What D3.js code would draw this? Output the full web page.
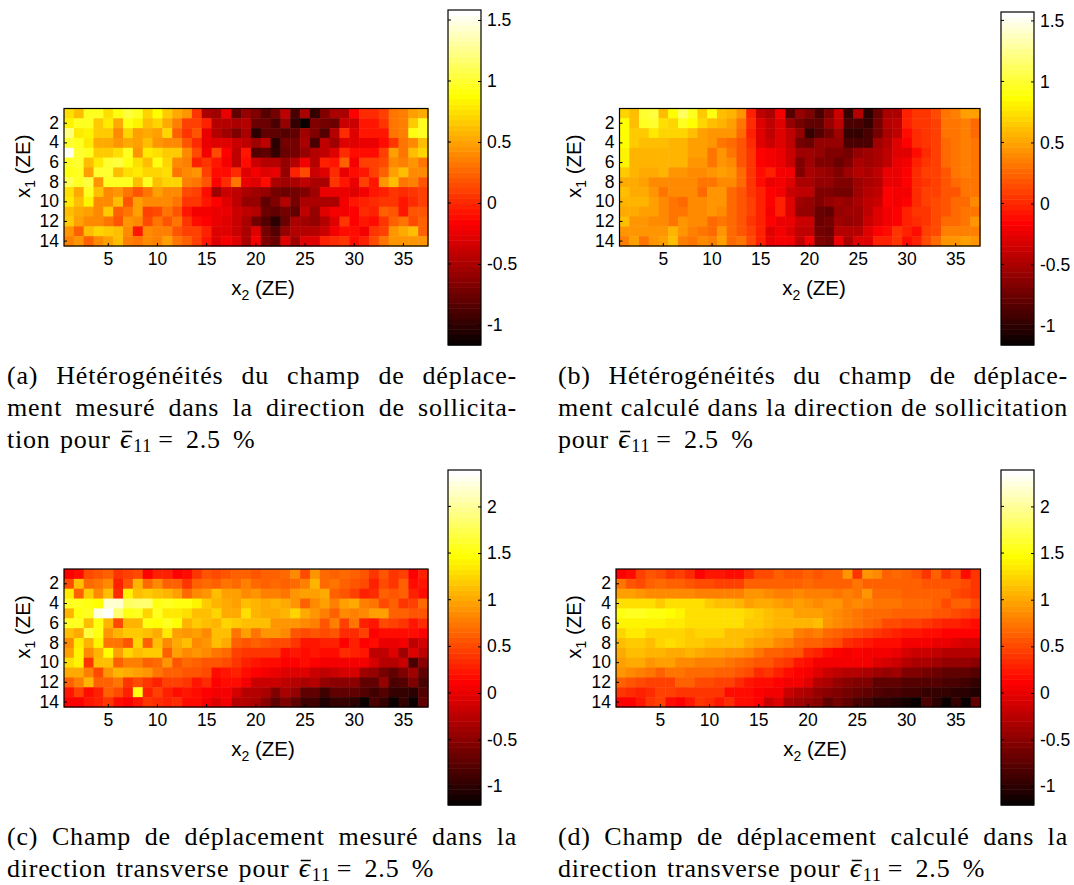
<!DOCTYPE html>
<html><head><meta charset="utf-8">
<script src="https://cdn.jsdelivr.net/npm/d3@7"></script>
<style>
html,body{margin:0;padding:0;background:#fff}
svg{display:block}
.ax text{font-family:"Liberation Sans",Arial,sans-serif;font-size:17.5px;fill:#000}
.lab{font-family:"Liberation Sans",Arial,sans-serif;font-size:20.5px;fill:#000}
.cap{font-family:"Liberation Serif",serif;font-size:26px;fill:#000}
</style></head><body>
<svg id="c" width="1074" height="885"></svg>
<script>
const xTicksVals=[5,10,15,20,25,30,35];
const yTicksVals=[2,4,6,8,10,12,14];
const barTicksTop=[-1,-0.5,0,0.5,1,1.5];
const barTicksBottom=[-1,-0.5,0,0.5,1,1.5,2];
const fieldA=[
[.75,.6,.95,.95,.75,.9,1.05,.95,.7,.88,.65,.55,.45,.05,-.5,-.55,-.25,-.8,-.6,-.65,-.85,-.7,-.4,-.9,-.5,-.95,-.65,-.5,-.5,-.15,0,0,.1,.3,.35,.5,.55],
[.85,.95,.95,.65,.8,.55,.9,.85,.6,.7,.55,.35,.1,.1,-.02,-.45,-.45,-.5,-.45,-.75,-.75,-.9,-.6,-.95,-1.15,-.65,-.7,-.75,-.35,-.35,-.05,-.05,.05,.3,.35,.65,.95],
[1.2,.8,.85,.65,.65,.4,.7,.5,.55,.5,.7,.25,.05,.2,-.25,-.45,-.55,-.65,-.5,-1,-.8,-.8,-.85,-.8,-.55,-.65,-.85,-.45,0,-.3,-.05,-.05,-.05,.3,.35,.9,.95],
[1,.95,.8,.55,.55,.45,.55,.5,.6,.45,.4,.4,.2,0,-.25,-.3,-.3,-.35,-.4,-.55,-.4,-1,-.7,-.7,-.5,-.9,-.4,-.55,-.3,-.3,-.25,-.25,-.1,.05,.3,.4,.6],
[1.5,1,.95,.65,.65,.75,.95,.45,.8,.75,.65,.65,.4,.15,-.2,.15,-.15,-.4,-.05,-.85,-.8,-.95,-.75,-.7,-.6,-.45,-.4,-.3,0,-.1,-.1,-.1,.1,.5,.3,.6,.7],
[.95,1,.6,.8,1,1.05,.9,.75,.6,.9,.7,.4,.35,-.02,.05,-.05,-.2,-.4,-.1,-.35,-.45,-.45,-.6,-.45,-.2,-.45,-.02,-.05,.25,-.2,.1,.1,.15,.4,.35,.45,.3],
[.9,.95,.5,1,1,.6,.75,.8,.7,.7,.75,.3,.4,.45,.1,-.1,-.1,.02,-.3,-.2,-.3,-.25,-.6,-.02,.15,-.35,-.3,0,-.25,-.1,-.05,.1,.25,.5,.6,.4,.4],
[1.1,.95,1.05,.45,.95,.95,.95,.6,.95,.6,.7,.7,.35,.3,.2,-.15,.02,.3,-.25,-.3,-.1,-.5,-.55,-.5,-.4,-.5,-.5,.05,-.05,-.25,.1,-.05,.45,.6,.3,.35,.2],
[.75,.55,.95,.6,.4,.45,.3,.2,.3,.5,.4,.4,.15,.1,-.1,-.55,-.35,-.4,-.5,-.55,-.6,-.7,-.75,-.7,-.65,-.55,-.25,-.25,-.25,-.3,-.2,-.05,-.02,.05,0,.05,.1],
[.8,.6,.85,.4,.4,.6,.2,.5,.4,.4,.4,.3,.05,.05,-.05,-.15,-.3,-.4,-.6,-.6,-.8,-.65,-.45,-.7,-.5,-.5,-.5,-.5,-.2,-.05,-.02,0,.05,.05,-.05,.02,.1],
[.6,.55,.5,.4,.65,.25,.3,.5,.1,.15,.3,.2,-.05,-.2,-.2,-.25,-.25,-.35,-.4,-.45,-.75,-.8,-.7,-.8,-.4,-.6,-.3,-.2,-.2,-.15,0,-.02,.25,.2,-.05,.2,.2],
[.65,.5,.4,.4,.3,.2,.45,.4,.15,.3,.2,.3,.05,-.1,-.15,-.25,-.3,-.35,-.5,-.7,-.85,-1,-.75,-.5,-.55,-.6,-.45,-.3,.05,-.15,-.05,-.1,.05,.25,.3,.15,.25],
[.45,.25,.6,.7,.65,.6,.4,-.05,.4,.35,.35,.2,.1,.1,-.02,-.3,-.3,-.35,-.5,-.3,-.7,-.85,-.6,-.45,-.45,-.45,-.35,-.2,-.1,-.1,-.2,.05,.1,.45,.55,.6,.25],
[.35,.45,.25,.4,.5,.6,.35,.3,.4,.35,.5,.3,.25,.1,-.05,-.3,-.2,-.3,-.5,-.2,-.65,-.75,-.3,-.55,-.3,-.3,-.02,0,.05,-.1,-.02,.15,.3,.45,.45,.45,.45]
];
const fieldB=[
[.7,.6,1,1.05,.6,.85,1.1,.95,.65,.9,.6,.55,.45,-.05,-.4,-.5,-.2,-.85,-.6,-.65,-.9,-.65,-.35,-.95,-.45,-1,-.75,-.5,-.5,-.05,.05,.05,.15,.3,.35,.5,.5],
[.85,.6,.95,1,.75,.7,.95,.85,.7,.6,.55,.5,.3,0,-.3,-.4,-.3,-.6,-.7,-.8,-.8,-.6,-.4,-.9,-.9,-.95,-.7,-.45,-.4,-.05,.05,.05,.1,.3,.3,.35,.25],
[.85,.65,.65,.8,.7,.7,.7,.62,.5,.45,.45,.45,.25,-.02,-.3,-.4,-.3,-.4,-.6,-.95,-.85,-.7,-.55,-.95,-.95,-.9,-.7,-.5,-.4,-.1,0,.05,.1,.3,.3,.35,.25],
[.85,.65,.62,.62,.62,.58,.58,.48,.48,.42,.33,.25,.2,0,-.3,-.35,-.3,-.4,-.7,-.75,-.6,-.6,-.6,-.9,-.9,-.9,-.55,-.45,-.3,-.15,0,.05,.1,.25,.3,.35,.3],
[.82,.58,.58,.55,.55,.55,.55,.47,.47,.33,.42,.3,.2,.05,-.15,-.2,-.25,-.35,-.55,-.55,-.6,-.65,-.65,-.7,-.6,-.55,-.5,-.4,-.3,-.3,-.1,0,.1,.25,.3,.35,.3],
[.82,.58,.58,.55,.55,.55,.55,.42,.42,.33,.42,.38,.2,.05,-.15,-.2,-.25,-.35,-.65,-.55,-.65,-.65,-.75,-.65,-.5,-.55,-.5,-.4,-.25,-.2,-.05,.05,.1,.25,.3,.35,.3],
[.65,.58,.52,.52,.55,.42,.42,.38,.38,.42,.47,.42,.25,.05,-.1,-.05,-.2,-.2,-.65,-.5,-.55,-.6,-.65,-.55,-.45,-.5,-.4,-.25,-.25,-.15,0,.1,.1,.2,.3,.35,.3],
[.52,.52,.47,.38,.38,.38,.38,.38,.33,.33,.38,.38,.25,.05,-.1,-.25,-.2,-.3,-.5,-.5,-.6,-.6,-.65,-.65,-.55,-.5,-.45,-.25,-.25,-.15,0,.05,.1,.2,.25,.3,.3],
[.62,.52,.52,.42,.33,.38,.38,.38,.28,.42,.42,.25,.2,.05,-.05,-.15,-.2,-.35,-.4,-.4,-.65,-.65,-.7,-.7,-.55,-.45,-.4,-.15,-.2,-.2,0,.1,.1,.2,.2,.3,.3],
[.58,.58,.58,.47,.38,.33,.28,.38,.38,.42,.42,.25,.2,.1,-.05,-.15,-.05,-.3,-.55,-.6,-.65,-.6,-.55,-.6,-.5,-.4,-.35,-.15,-.2,-.15,0,.1,.15,.2,.25,.25,.4],
[.52,.52,.47,.47,.38,.33,.33,.38,.38,.42,.38,.25,.2,.1,-.05,-.2,-.05,-.3,-.6,-.6,-.75,-.8,-.6,-.55,-.55,-.4,-.3,-.2,-.15,-.05,.05,.05,.15,.2,.25,.3,.3],
[.62,.42,.42,.38,.38,.33,.42,.38,.38,.28,.33,.25,.2,.05,-.05,-.15,-.25,-.25,-.35,-.35,-.75,-.7,-.55,-.6,-.55,-.35,-.3,-.2,-.15,-.05,0,.05,.15,.25,.25,.3,.45],
[.42,.45,.45,.45,.45,.55,.45,.35,.3,.25,.45,.25,.2,.1,-.02,-.3,-.2,-.3,-.4,-.4,-.7,-.75,-.45,-.45,-.45,-.3,-.15,-.1,.05,-.05,-.1,.1,.15,.35,.35,.35,.35],
[.35,.5,.3,.45,.5,.6,.35,.3,.4,.35,.5,.25,.3,.15,-.02,-.25,-.2,-.2,-.4,-.2,-.65,-.7,-.25,-.5,-.3,-.3,-.05,-.02,.05,-.1,-.05,.15,.25,.45,.45,.5,.45]
];
const fieldC=[
[.1,.2,.5,.55,.6,.4,.45,.5,.12,.3,.3,.12,.2,.4,.55,.5,.55,.6,.65,.55,.6,.6,.7,.85,.5,.9,.7,.6,.7,.6,.55,.4,.55,.4,.45,.12,.3],
[.5,1.15,.7,.75,.85,.3,.55,1.05,.7,.85,.6,.6,.4,.65,.7,.65,.75,.7,.8,.7,.65,.7,.65,.7,.8,1.05,.7,.75,.65,.55,.5,.3,.5,.4,.6,.2,.25],
[1.35,.65,1.2,.85,1.1,.35,1.4,1.15,1.2,1.15,1.05,.95,.7,.85,.9,1.1,.95,.95,.85,.9,.8,.8,.75,.9,.95,.95,1,.65,.55,.45,.3,.35,.65,.55,.6,.3,.2],
[1.6,1.55,1.5,1.45,2.2,2.2,1.8,1.85,1.85,1.5,1.55,1.5,1.5,1.4,1.2,1.05,1,.95,1.15,1.05,1,1.05,1,.9,.65,.85,.95,.8,.95,1,.8,.75,.5,.65,.4,.45,.7],
[1.05,1.5,1.6,2.25,2.39,1.85,1.5,1.6,1.25,1.6,1.35,1.35,1.3,1.1,1.1,1.25,1,1,1.3,1.05,1,1,1.05,1.25,1,.9,.8,.65,.85,.8,.85,.95,.95,.65,.65,.55,.55],
[1.55,1.6,1.15,1.5,1.05,.5,1.05,1.05,1.5,1.45,1.55,1.45,1.05,1.2,1.15,1.05,1.25,1.2,1.1,1.1,1.1,.9,.9,.9,.85,.8,.55,.8,.45,.75,.3,.25,.5,.45,.4,.25,.35],
[1.15,1,1.7,1.5,.9,1.05,1.2,1.2,1.15,1,1.35,.95,.9,.95,.85,1.1,1.1,.75,.95,.75,.9,.9,.85,.55,.5,.55,.5,.55,.35,.35,.45,.1,.2,.2,.2,.15,.1],
[.85,1.35,1.05,1.4,.75,.75,.55,1.25,.6,1.15,.85,1,1.1,.85,.9,1.15,1,.6,.55,.6,.55,.5,.5,.4,.25,.25,.3,.3,.1,.3,.1,.2,0,0,.05,-.2,-.1],
[.95,1.4,.85,1.05,1.45,.95,1.25,1.15,1.2,1.2,.65,.95,.85,.9,.85,.75,.7,.45,.4,.4,.4,.4,.15,.25,.2,.25,.2,.15,.35,.3,.25,-.2,-.2,-.05,-.4,-.05,-.2],
[1.3,1.4,.4,1.15,1.1,.65,.8,.8,.65,.7,.9,.55,.7,.65,.55,.55,.5,.4,.3,.25,.15,.2,.1,.1,.15,.1,.05,.05,.05,.05,.05,-.1,-.3,-.3,-.15,-.85,-.5],
[1,1,.8,.5,.9,1.05,1,.95,.9,.75,.6,.65,.55,.55,.5,.2,.25,.3,.2,.1,.05,0,-.05,-.05,-.05,-.15,-.2,-.15,-.1,-.1,-.4,-.45,-.6,-.7,-.55,-.4,-.7],
[.6,.8,1.05,.65,.65,.75,.4,.5,.4,.3,.45,.45,.4,.25,.35,.1,.2,.15,.05,-.15,-.15,-.15,-.2,-.3,-.35,-.25,-.45,-.5,-.5,-.5,-.75,-.7,-.45,-.85,-.8,-.55,-.85],
[.25,.45,.2,.3,.6,.5,.3,1.5,.3,.45,.3,.2,.25,.15,.1,.05,.05,-.1,-.25,-.25,-.35,-.55,-.35,-.45,-.75,-.75,-.9,-.7,-.75,-.75,-.8,-.9,-.8,-.95,-.95,-1,-.8],
[.1,.1,.25,.3,.4,.2,.1,.25,.4,.35,.3,.35,.15,.2,.05,-.05,.05,-.25,-.3,-.35,-.5,-.7,-.55,-.7,-.9,-.9,-1.05,-.95,-.95,-1,-1.15,-.85,-.95,-1.2,-.95,-1.2,-.7]
];
const fieldD=[
[.1,.2,.45,.55,.5,.4,.45,.35,.12,.25,.25,.15,.2,.35,.5,.5,.6,.55,.55,.65,.55,.6,.6,.9,.4,.9,.85,.65,.7,.6,.55,.4,.6,.4,.5,.15,.4],
[.75,.55,.5,.6,.7,.65,.6,.55,.5,.5,.45,.45,.45,.65,.65,.65,.65,.6,.65,.7,.65,.6,.65,.65,.75,.6,.6,.6,.65,.65,.6,.55,.55,.55,.55,.5,.4],
[.95,.95,.9,.85,.85,.85,.85,.85,.8,.8,.8,.8,.8,.9,.9,.85,.8,.8,.85,.8,.8,.8,.75,.8,.75,.9,.7,.7,.7,.6,.6,.6,.6,.6,.5,.45,.4],
[1.3,1.3,1.3,1.3,1.2,1.3,1.3,1.3,1.3,1.2,1.15,1.1,1.05,.95,1,1,.95,.9,.95,.9,.85,.9,.9,.8,.85,.8,.75,.75,.75,.7,.7,.7,.6,.5,.6,.6,.5],
[1.5,1.55,1.55,1.5,1.5,1.45,1.4,1.3,1.3,1.3,1.3,1.3,1.3,1.25,1.2,1.1,1.05,1.05,.95,.95,.95,.9,.85,.8,.75,.7,.7,.7,.65,.65,.6,.6,.55,.55,.5,.45,.4],
[1.4,1.4,1.4,1.4,1.4,1.35,1.35,1.3,1.3,1.3,1.3,1.3,1.3,1.2,1.2,1.1,1.05,1.05,1.05,1.05,1.1,.9,.85,.8,.75,.7,.6,.5,.5,.45,.45,.4,.35,.3,.3,.25,.2],
[1.25,1.35,1.35,1.25,1.25,1.25,1.25,1.2,1.25,1.25,1.25,1.15,1.1,1.1,1.05,1,.95,.95,.8,.75,.8,.7,.65,.55,.5,.45,.4,.35,.3,.25,.25,.15,.2,.1,.1,.1,.1],
[1.15,1.2,1.2,1.15,1.25,1.3,1.25,1.2,1.2,1.15,1.15,1.1,1.1,1,.95,.95,.85,.8,.7,.65,.65,.55,.5,.35,.3,.25,.2,.15,.15,.05,.05,.05,0,0,-.05,-.1,-.1],
[1,1.1,1.15,1.05,1.05,1,1,1.05,1,.95,.95,.9,.9,.85,.75,.65,.6,.55,.55,.35,.3,.2,.1,.05,.1,.05,.05,.05,0,-.1,-.15,-.15,-.2,-.25,-.25,-.3,-.3],
[.95,1,1,.9,.95,.95,.85,.85,.8,.8,.8,.75,.7,.65,.55,.55,.45,.4,.25,.2,.05,.05,.05,.05,.05,.05,-.05,-.1,-.15,-.3,-.35,-.35,-.4,-.45,-.45,-.45,-.5],
[.9,.85,.8,.75,.65,.75,.75,.7,.7,.7,.65,.6,.55,.5,.35,.4,.3,.15,.1,.05,-.05,-.15,-.2,-.25,-.3,-.35,-.4,-.45,-.4,-.55,-.55,-.6,-.65,-.7,-.75,-.75,-.8],
[.6,.55,.5,.45,.45,.45,.6,.6,.5,.5,.45,.45,.35,.25,.2,.15,.1,.05,.05,-.05,-.3,-.35,-.45,-.5,-.55,-.55,-.7,-.75,-.75,-.8,-.8,-.8,-.8,-.85,-.85,-.9,-.95],
[.4,.35,.3,.35,.45,.45,.4,.4,.4,.4,.4,.2,.2,.15,.1,.05,.05,-.15,-.3,-.35,-.45,-.5,-.55,-.6,-.65,-.75,-.8,-.85,-.85,-.9,-.9,-.95,-.95,-.95,-1,-1,-1.05],
[.1,.1,.25,.4,.45,.2,.1,.25,.4,.35,.25,.35,.15,.2,.1,-.15,-.05,-.35,-.4,-.45,-.5,-.75,-.6,-.7,-.85,-.9,-1,-1,-1.05,-1.1,-1.2,-.85,-1,-1.2,-.95,-1.2,-.75]
];
const captionA=["(a) Hétérogénéités du champ de déplace-","ment mesuré dans la direction de sollicita-"];
const captionB=["(b) Hétérogénéités du champ de déplace-","ment calculé dans la direction de sollicitation"];
const captionC=["(c) Champ de déplacement mesuré dans la"];
const captionD=["(d) Champ de déplacement calculé dans la"];
const tailTop="tion pour ", tailTopB="pour ", tailBottom="direction transverse pour ";

const svg=d3.select("#c");
const hot=d3.range(64).map(i=>{
  const n=64,m=Math.floor(3*n/8),k=i+1;
  const r=Math.min(1,k/m),g=Math.min(1,Math.max(0,(k-m)/m)),b=Math.max(0,(k-2*m)/(n-2*m));
  return d3.rgb(r*255,g*255,b*255).formatHex();
});
const columns=d3.range(1,38), rows=d3.range(1,15);

function panel(o){
  const g=svg.append("g");
  const color=d3.scaleQuantize().domain(o.dom).range(hot);
  const x=d3.scaleBand().domain(columns).range([o.x0,o.x1]);
  const y=d3.scaleBand().domain(rows).range([o.y0,o.y1]);
  o.data.forEach((row,i)=>row.forEach((v,j)=>{
    g.append("rect").attr("x",x(j+1)).attr("y",y(i+1)).attr("width",x.bandwidth()+.5).attr("height",y.bandwidth()+.5)
     .attr("fill",color(v));
  }));
  const ax=g.append("g").attr("class","ax").attr("transform",`translate(0,${o.y1})`)
    .call(d3.axisBottom(x).tickValues(xTicksVals).tickSize(-3).tickSizeOuter(0).tickPadding(7));
  const ay=g.append("g").attr("class","ax").attr("transform",`translate(${o.x0},0)`)
    .call(d3.axisLeft(y).tickValues(yTicksVals).tickSize(-3).tickSizeOuter(0).tickPadding(5));
  [ax,ay].forEach(a=>{a.select(".domain").remove();a.selectAll("line").attr("stroke","#000");});
  g.append("rect").attr("x",o.x0).attr("y",o.y0).attr("width",o.x1-o.x0).attr("height",o.y1-o.y0)
    .attr("fill","none").attr("stroke","#000").attr("stroke-width",1.2);
  const xl=g.append("text").attr("class","lab").attr("x",o.xlx).attr("y",o.y1+49).attr("text-anchor","middle");
  xl.append("tspan").text("x");
  xl.append("tspan").attr("dy",5).attr("font-size",14).text("2");
  xl.append("tspan").attr("dy",-5).text(" (ZE)");
  const yl=g.append("text").attr("class","lab").attr("text-anchor","middle")
    .attr("transform",`translate(${o.ylx},${(o.y0+o.y1)/2-11}) rotate(-90)`);
  yl.append("tspan").text("x");
  yl.append("tspan").attr("dy",5).attr("font-size",14).text("1");
  yl.append("tspan").attr("dy",-5).text(" (ZE)");
  // colour bar
  const cy=d3.scaleLinear().domain(o.dom).range([o.b1,o.b0]);
  const step=(o.dom[1]-o.dom[0])/64;
  const bar=g.append("g");
  hot.forEach((c,i)=>{
    const lo=o.dom[0]+i*step;
    bar.append("rect").attr("x",o.bx).attr("width",33).attr("y",cy(lo+step)).attr("height",cy(lo)-cy(lo+step)+.5).attr("fill",c);
  });
  const ac=g.append("g").attr("class","ax").attr("transform",`translate(${o.bx+33},0)`)
    .call(d3.axisRight(cy).tickValues(o.ticks).tickSize(-3).tickSizeOuter(0).tickPadding(6).tickFormat(d=>String(d)));
  ac.select(".domain").remove();ac.selectAll("line").attr("stroke","#000");
  g.append("g").selectAll("line").data(o.ticks).join("line").attr("x1",o.bx).attr("x2",o.bx+3).attr("y1",d=>cy(d)).attr("y2",d=>cy(d)).attr("stroke","#000");
  g.append("rect").attr("x",o.bx).attr("y",o.b0).attr("width",33).attr("height",o.b1-o.b0).attr("fill","none").attr("stroke","#000").attr("stroke-width",1.2);
  // caption
  o.lines.forEach((t,i)=>{
    const el=g.append("text").attr("class","cap").attr("x",o.cx).attr("y",o.cy+i*32).attr("letter-spacing",.8).text(t);
    const w=el.node().getComputedTextLength();
    const gaps=t.split(" ").length-1;
    el.attr("word-spacing",(510-w)/gaps);
  });
  const ly=o.cy+o.lines.length*32;
  const last=g.append("text").attr("class","cap").attr("x",o.cx).attr("y",ly).attr("letter-spacing",.8).attr("word-spacing",2);
  last.append("tspan").text(o.tail);
  last.append("tspan").attr("font-style","italic").attr("font-size",28).text("ϵ");
  last.append("tspan").attr("dy",4).attr("dx",1).attr("font-size",18).text("11");
  last.append("tspan").attr("dy",-4).attr("dx",6).attr("word-spacing",5).text("= 2.5 %");
  const idx=o.tail.length, box=last.node().getExtentOfChar(idx);
  g.append("line").attr("x1",box.x+2).attr("x2",box.x+box.width).attr("y1",ly-16.5).attr("y2",ly-16.5).attr("stroke","#000").attr("stroke-width",1.5);
}
panel({data:fieldA,dom:[-1.164,1.582],x0:64,x1:428,y0:108.5,y1:246,bx:448,b0:10,b1:345,ticks:barTicksTop,lines:captionA,tail:tailTop,cx:7,cy:384,xlx:263,ylx:30});
panel({data:fieldB,dom:[-1.16,1.569],x0:619.5,x1:980,y0:108.5,y1:246,bx:1001,b0:12,b1:345,ticks:barTicksTop,lines:captionB,tail:tailTopB,cx:558,cy:384,xlx:814,ylx:581});
panel({data:fieldC,dom:[-1.2,2.39],x0:64,x1:428,y0:569,y1:707,bx:448,b0:470,b1:805,ticks:barTicksBottom,lines:captionC,tail:tailBottom,cx:7,cy:845,xlx:263,ylx:30});
panel({data:fieldD,dom:[-1.2,2.39],x0:616,x1:980.5,y0:569,y1:707,bx:1001,b0:470,b1:805,ticks:barTicksBottom,lines:captionD,tail:tailBottom,cx:558,cy:845,xlx:815,ylx:581});
</script>
</body></html>
